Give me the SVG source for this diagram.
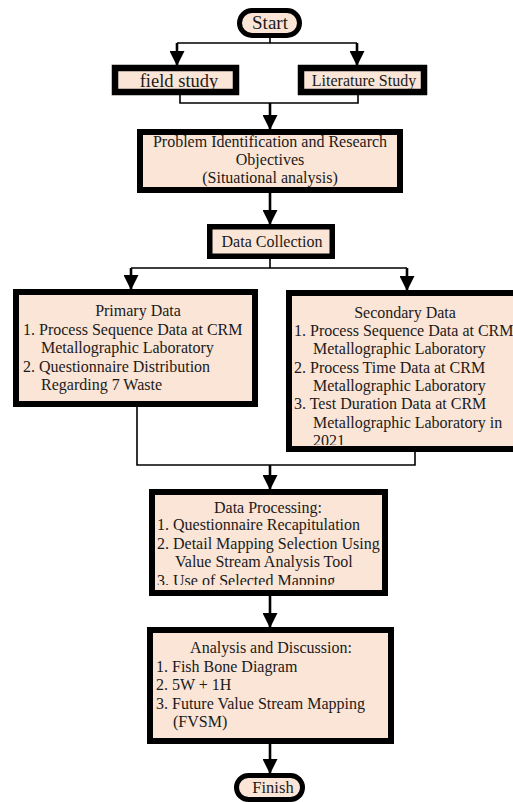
<svg xmlns="http://www.w3.org/2000/svg" width="513" height="802" viewBox="0 0 513 802">
<style>
.box{fill:#FBE5D6;stroke:none}
.brd{fill:none;stroke:#000;stroke-width:6}
.t{font-family:"Liberation Serif","Times New Roman",serif;font-size:16px;fill:#1a1a1a}
.c{text-anchor:middle}
.ln{fill:none;stroke:#000;stroke-width:1.6}
.ar{fill:none;stroke:#000;stroke-width:2.6}
</style>
<defs>
<marker id="ah" markerUnits="userSpaceOnUse" markerWidth="15" markerHeight="15" refX="14" refY="7.5" orient="auto">
<path d="M0,0 L15,7.5 L0,15 z" fill="#000"/>
</marker>
<clipPath id="clipSec"><rect x="0" y="0" width="513" height="445"/></clipPath>
<clipPath id="clipProc"><rect x="0" y="0" width="513" height="585"/></clipPath>
</defs>
<g id="connectors">
<path class="ln" d="M270,38 V43 M177,43 H357"/>
<path class="ar" d="M177,43 V65" marker-end="url(#ah)"/>
<path class="ar" d="M357,43 V65" marker-end="url(#ah)"/>
<path class="ln" d="M180,95 V103 H358 V95"/>
<path class="ar" d="M270,103 V129" marker-end="url(#ah)"/>
<path class="ar" d="M270,193 V224" marker-end="url(#ah)"/>
<path class="ln" d="M270,259 V268 M131,268 H407"/>
<path class="ar" d="M131,268 V289" marker-end="url(#ah)"/>
<path class="ar" d="M407,268 V290" marker-end="url(#ah)"/>
<path class="ln" d="M137,407 V465 H415 V452"/>
<path class="ar" d="M270,465 V489" marker-end="url(#ah)"/>
<path class="ar" d="M270,596 V627" marker-end="url(#ah)"/>
<path class="ar" d="M270,744 V773" marker-end="url(#ah)"/>
</g>
<g id="start">
<rect class="box" x="239.5" y="10.5" width="60" height="25" rx="12.5"/>
<text class="t c" x="270" y="29" style="font-size:19px">Start</text>
<rect class="brd" x="239.5" y="10.5" width="60" height="25" rx="12.5" style="stroke-width:5"/>
</g>
<g id="field">
<rect class="box" x="115" y="68" width="121" height="24"/>
<text class="t c" x="179" y="87" style="font-size:18.5px">field study</text>
<rect class="brd" x="115" y="68" width="121" height="24" style="stroke-width:6.5"/>
</g>
<g id="literature">
<rect class="box" x="301" y="68" width="123" height="24"/>
<text class="t c" x="364" y="86">Literature Study</text>
<rect class="brd" x="301" y="68" width="123" height="24" style="stroke-width:6.5"/>
</g>
<g id="problem">
<rect class="box" x="140" y="132" width="260" height="58"/>
<text class="t c" x="270" y="147">Problem Identification and Research</text>
<text class="t c" x="270" y="165">Objectives</text>
<text class="t c" x="270" y="183">(Situational analysis)</text>
<rect class="brd" x="140" y="132" width="260" height="58"/>
</g>
<g id="collection">
<rect class="box" x="209.75" y="226.75" width="122.5" height="29.5"/>
<text class="t c" x="272" y="247">Data Collection</text>
<rect class="brd" x="209.75" y="226.75" width="122.5" height="29.5" style="stroke-width:5.5"/>
</g>
<g id="primary">
<rect class="box" x="16" y="292" width="239" height="112"/>
<text class="t c" x="138" y="316">Primary Data</text>
<text class="t" x="23" y="335">1. Process Sequence Data at CRM</text>
<text class="t" x="41" y="353">Metallographic Laboratory</text>
<text class="t" x="23" y="372">2. Questionnaire Distribution</text>
<text class="t" x="41" y="390">Regarding 7 Waste</text>
<rect class="brd" x="16" y="292" width="239" height="112"/>
</g>
<g id="secondary">
<rect class="box" x="289" y="293" width="240" height="156"/>
<text class="t c" x="405" y="318">Secondary Data</text>
<text class="t" x="294" y="336">1. Process Sequence Data at CRM</text>
<text class="t" x="313" y="354">Metallographic Laboratory</text>
<text class="t" x="294" y="373">2. Process Time Data at CRM</text>
<text class="t" x="313" y="391">Metallographic Laboratory</text>
<text class="t" x="294" y="409">3. Test Duration Data at CRM</text>
<text class="t" x="313" y="428">Metallographic Laboratory in</text>
<text class="t" x="313" y="446" clip-path="url(#clipSec)">2021</text>
<rect class="brd" x="289" y="293" width="240" height="156"/>
</g>
<g id="processing">
<rect class="box" x="152" y="492" width="233" height="101"/>
<text class="t c" x="268" y="513">Data Processing:</text>
<text class="t" x="157" y="530">1. Questionnaire Recapitulation</text>
<text class="t" x="157" y="549">2. Detail Mapping Selection Using</text>
<text class="t" x="175" y="567">Value Stream Analysis Tool</text>
<text class="t" x="157" y="586" clip-path="url(#clipProc)">3. Use of Selected Mapping</text>
<rect class="brd" x="152" y="492" width="233" height="101"/>
</g>
<g id="analysis">
<rect class="box" x="150" y="630" width="241" height="111"/>
<text class="t c" x="271" y="653">Analysis and Discussion:</text>
<text class="t" x="156" y="672">1. Fish Bone Diagram</text>
<text class="t" x="156" y="690">2. 5W + 1H</text>
<text class="t" x="156" y="709">3. Future Value Stream Mapping</text>
<text class="t" x="173" y="727">(FVSM)</text>
<rect class="brd" x="150" y="630" width="241" height="111"/>
</g>
<g id="finish">
<rect class="box" x="236.5" y="775.5" width="66" height="24" rx="12"/>
<text class="t c" x="273" y="793" style="font-size:16.5px">Finish</text>
<rect class="brd" x="236.5" y="775.5" width="66" height="24" rx="12" style="stroke-width:5"/>
</g>
</svg>
